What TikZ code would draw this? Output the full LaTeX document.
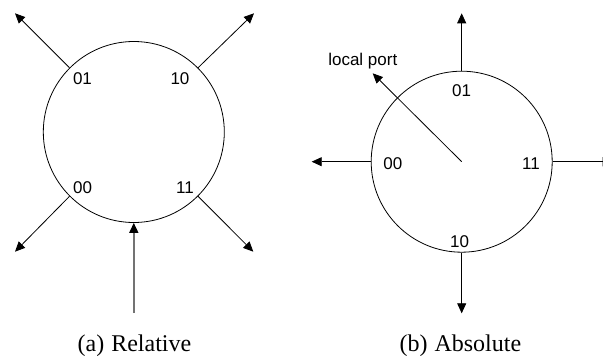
\documentclass[tikz,border=0pt]{standalone}
\usepackage{fontspec}
\setmainfont{Liberation Serif}
\setsansfont{Liberation Sans}
\usetikzlibrary{arrows.meta}
\tikzset{
  router/.style={circle, draw, line width=0.8pt, minimum size=181pt, inner sep=0pt},
  port/.style={draw, line width=0.8pt, -{Triangle[length=10pt,width=9pt]}},
  inport/.style={draw=black!55, line width=1.6pt, -{Triangle[length=10pt,width=9pt,color=black]}},
  portlabel/.style={font=\sffamily\fontsize{17}{18}\selectfont, anchor=base, inner sep=0pt},
  caption/.style={font=\rmfamily\fontsize{24}{25}\selectfont, anchor=base, inner sep=0pt}
}
\begin{document}
\begin{tikzpicture}[x=1pt,y=-1pt]
  \useasboundingbox (0,0) rectangle (603,356);
  \clip (0,0) rectangle (603,356);

  % (a) relative port numbering
  \node[router] (L) at (133.8,132) {};
  \coordinate (Ltl) at (15,13.3);
  \coordinate (Ltr) at (254,13.3);
  \coordinate (Lbl) at (15,251.7);
  \coordinate (Lbr) at (253.3,251.7);
  \coordinate (Lin) at (133.8,313);
  \draw[port] (L.135) -- (Ltl);
  \draw[port] (L.45) -- (Ltr);
  \draw[port] (L.225) -- (Lbl);
  \draw[port] (L.315) -- (Lbr);
  \draw[inport] (Lin) -- (L.south);
  \node[portlabel] (l01) at (82.5,84) {01};
  \node[portlabel] (l10) at (180,84) {10};
  \node[portlabel] (l00) at (82.7,193.5) {00};
  \node[portlabel] (l11) at (185,193.5) {11};
  \node[caption] (capa) at (134.5,351.5) {(a)\hskip7pt Relative};

  % (b) absolute port numbering
  \node[router] (R) at (461.7,161.7) {};
  \coordinate (Rn) at (461.7,13.3);
  \coordinate (Rw) at (311.7,161.7);
  \coordinate (Rs) at (461.7,313.3);
  \coordinate (Re) at (612.7,161.7);
  \coordinate (Rloc) at (372.7,73.3);
  \draw[port] (R.north) -- (Rn);
  \draw[port] (R.west) -- (Rw);
  \draw[port] (R.south) -- (Rs);
  \draw[port] (R.east) -- (Re);
  \draw[port] (R.center) -- (Rloc);
  \node[portlabel] (r01) at (461.7,96.5) {01};
  \node[portlabel] (r00) at (392.8,169) {00};
  \node[portlabel] (r11) at (531,169) {11};
  \node[portlabel] (r10) at (459.5,247.3) {10};
  \node[portlabel] (loc) at (362.8,65.7) {local port};
  \node[caption] (capb) at (460.4,351.5) {(b)\hskip7pt Absolute};
\end{tikzpicture}
\end{document}
